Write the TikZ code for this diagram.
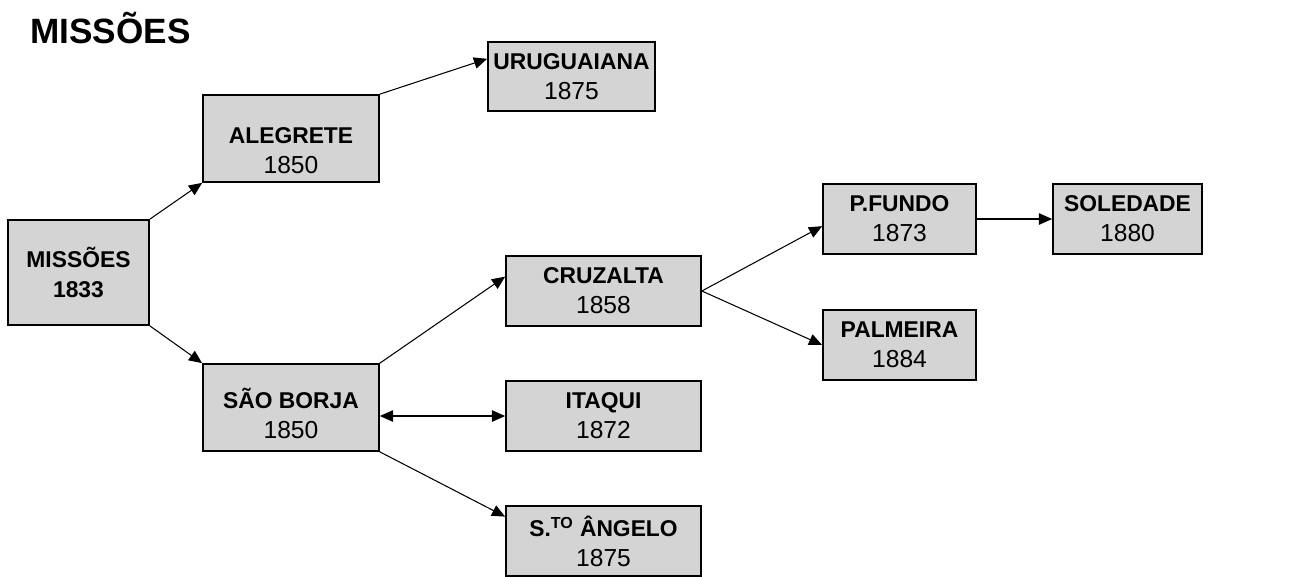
\documentclass[tikz,border=0pt]{standalone}
\usepackage{fontspec}
\setmainfont{Liberation Sans}
\usetikzlibrary{arrows.meta,calc}
\definecolor{boxgray}{RGB}{212,212,212}
\newcommand\yr[1]{{\fontsize{14}{17}\selectfont #1}}

\begin{document}
\begin{tikzpicture}[x=0.02cm,y=-0.02cm]
  \tikzset{Town/.style 2 args={draw,line width=1pt,fill=boxgray,inner sep=0pt,
      align=center,minimum width=#1cm,minimum height=#2cm,
      font=\fontsize{13}{17}\selectfont},
    Tip/.tip={Triangle[length=7.5pt,width=6.5pt]},
    Link/.style={line width=0.6pt,-Tip}}
  \useasboundingbox (0,0) rectangle (1298,576);
  \node[anchor=base west,inner sep=0pt,font=\fontsize{20}{24}\selectfont\bfseries]
    (title) at (30,43) {MISSÕES};
  \node[Town={2.82}{2.10},font=\fontsize{13}{17}\selectfont\bfseries] (miss) at (78.5,272.5) {MISSÕES\\1833};
  \node[Town={3.52}{1.74}] (aleg)  at (291,138.5) {\rule{0pt}{23pt}\textbf{ALEGRETE}\\\yr{1850}};
  \node[Town={3.52}{1.74}] (borja) at (291,407.5) {\rule{0pt}{18.5pt}\textbf{SÃO BORJA}\\\yr{1850}};
  \node[Town={3.34}{1.38}] (urug)  at (571.5,76.5) {\textbf{URUGUAIANA}\\\yr{1875}};
  \node[Town={3.90}{1.40}] (cruz)  at (603.5,291) {\textbf{CRUZALTA}\\\yr{1858}};
  \node[Town={3.90}{1.40}] (itaq)  at (603.5,416) {\textbf{ITAQUI}\\\yr{1872}};
  \node[Town={3.90}{1.40}] (santo) at (603.5,541) {\textbf{S.\textsuperscript{TO} ÂNGELO}\\\yr{1875}};
  \node[Town={3.06}{1.40}] (pfun)  at (899.5,219) {\textbf{P.FUNDO}\\\yr{1873}};
  \node[Town={2.98}{1.40}] (sole)  at (1127.5,219) {\textbf{SOLEDADE}\\\yr{1880}};
  \node[Town={3.06}{1.40}] (palm)  at (899.5,345) {\textbf{PALMEIRA}\\\yr{1884}};
  \draw[Link] (miss.north east) -- (aleg.south west);
  \draw[Link] (miss.south east) -- (borja.north west);
  \draw[Link] (aleg.north east) -- ($(urug.north west)!.25!(urug.south west)$);
  \draw[Link] (borja.north east) -- ($(cruz.north west)!.3!(cruz.south west)$);
  \draw[Link,Tip-Tip] (itaq.west -| borja.east) -- (itaq.west);
  \draw[Link] (borja.south east) -- ($(santo.north west)!.16!(santo.south west)$);
  \draw[Link] (cruz.east) -- ($(pfun.north west)!.6!(pfun.south west)$);
  \draw[Link] (cruz.east) -- (palm.west);
  \draw[Link] (pfun.east) -- (sole.west);
\end{tikzpicture}
\end{document}
